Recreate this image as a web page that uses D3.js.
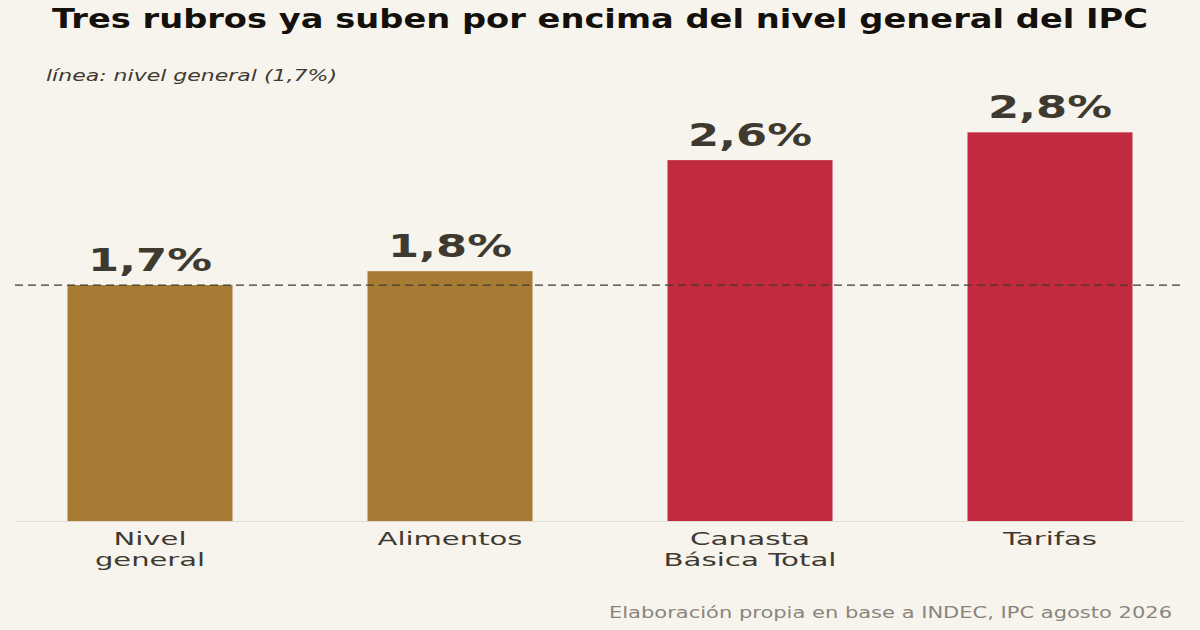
<!DOCTYPE html>
<html><head><meta charset="utf-8">
<script src="https://cdn.jsdelivr.net/npm/d3@7"></script>
<style>body{margin:0;background:#f7f4ee}svg{display:block}text{font-family:"DejaVu Sans",sans-serif}</style>
</head><body>
<script>
const categories = [["Nivel","general"],["Alimentos"],["Canasta","Básica Total"],["Tarifas"]];
const values = [1.7, 1.8, 2.6, 2.8];
const labels = ["1,7%","1,8%","2,6%","2,8%"];
const colors = ["#a87b35","#a87b35","#c22a3f","#c22a3f"];
const reference = 1.7;

const width = 1200, height = 630;
const svg = d3.select('body').append('svg').attr('width',width).attr('height',height);
svg.append('rect').attr('width',width).attr('height',height).attr('fill','#f7f4ee');

const x = d3.scaleBand().domain(d3.range(values.length)).range([0,1200]).paddingInner(0.45).paddingOuter(0.225);
const y = d3.scaleLinear().domain([0,3]).range([521,104.6]);

// stretched text helper (the source uses a wide face)
function wide(sel, len){ sel.attr('textLength',len).attr('lengthAdjust','spacingAndGlyphs'); return sel; }

wide(svg.append('text').attr('x',600).attr('y',28).attr('text-anchor','middle')
  .attr('font-size',26).attr('font-weight','bold').attr('fill','#14110d')
  .text('Tres rubros ya suben por encima del nivel general del IPC'),1096);
wide(svg.append('text').attr('x',46).attr('y',81).attr('font-size',15).attr('font-style','italic').attr('fill','#3f3a30')
  .text('línea: nivel general (1,7%)'),291);

svg.selectAll('rect.bar').data(values).enter().append('rect').attr('class','bar')
  .attr('x',(d,i)=>x(i)).attr('width',x.bandwidth())
  .attr('y',d=>y(d)).attr('height',d=>y(0)-y(d)).attr('fill',(d,i)=>colors[i]);

svg.append('line').attr('x1',15).attr('x2',1185).attr('y1',y(0)+0.5).attr('y2',y(0)+0.5).attr('stroke','#e2ddd2');
svg.append('line').attr('x1',15).attr('x2',1185).attr('y1',y(reference)).attr('y2',y(reference))
  .attr('stroke','#3f3a30').attr('stroke-width',1.3).attr('stroke-dasharray','8,5');

svg.selectAll('text.val').data(values).enter().append('text').attr('class','val')
  .attr('x',(d,i)=>x(i)+x.bandwidth()/2).attr('y',d=>y(d)-14).attr('text-anchor','middle')
  .attr('font-size',32).attr('font-weight','bold').attr('fill','#3f3a30')
  .text((d,i)=>labels[i]).attr('textLength',124).attr('lengthAdjust','spacingAndGlyphs');

const catW = {"Nivel":73,"general":110,"Alimentos":145,"Canasta":120,"Básica Total":173,"Tarifas":94};
categories.forEach((c,i)=>{
  c.forEach((line,j)=>{
    wide(svg.append('text').attr('x',x(i)+x.bandwidth()/2).attr('y',545+j*21).attr('text-anchor','middle')
      .attr('font-size',18).attr('fill','#3f3a30').text(line),catW[line]);
  });
});

wide(svg.append('text').attr('x',1172).attr('y',618).attr('text-anchor','end').attr('font-size',16).attr('fill','#8a857c')
  .text('Elaboración propia en base a INDEC, IPC agosto 2026'),563);
</script>
</body></html>
